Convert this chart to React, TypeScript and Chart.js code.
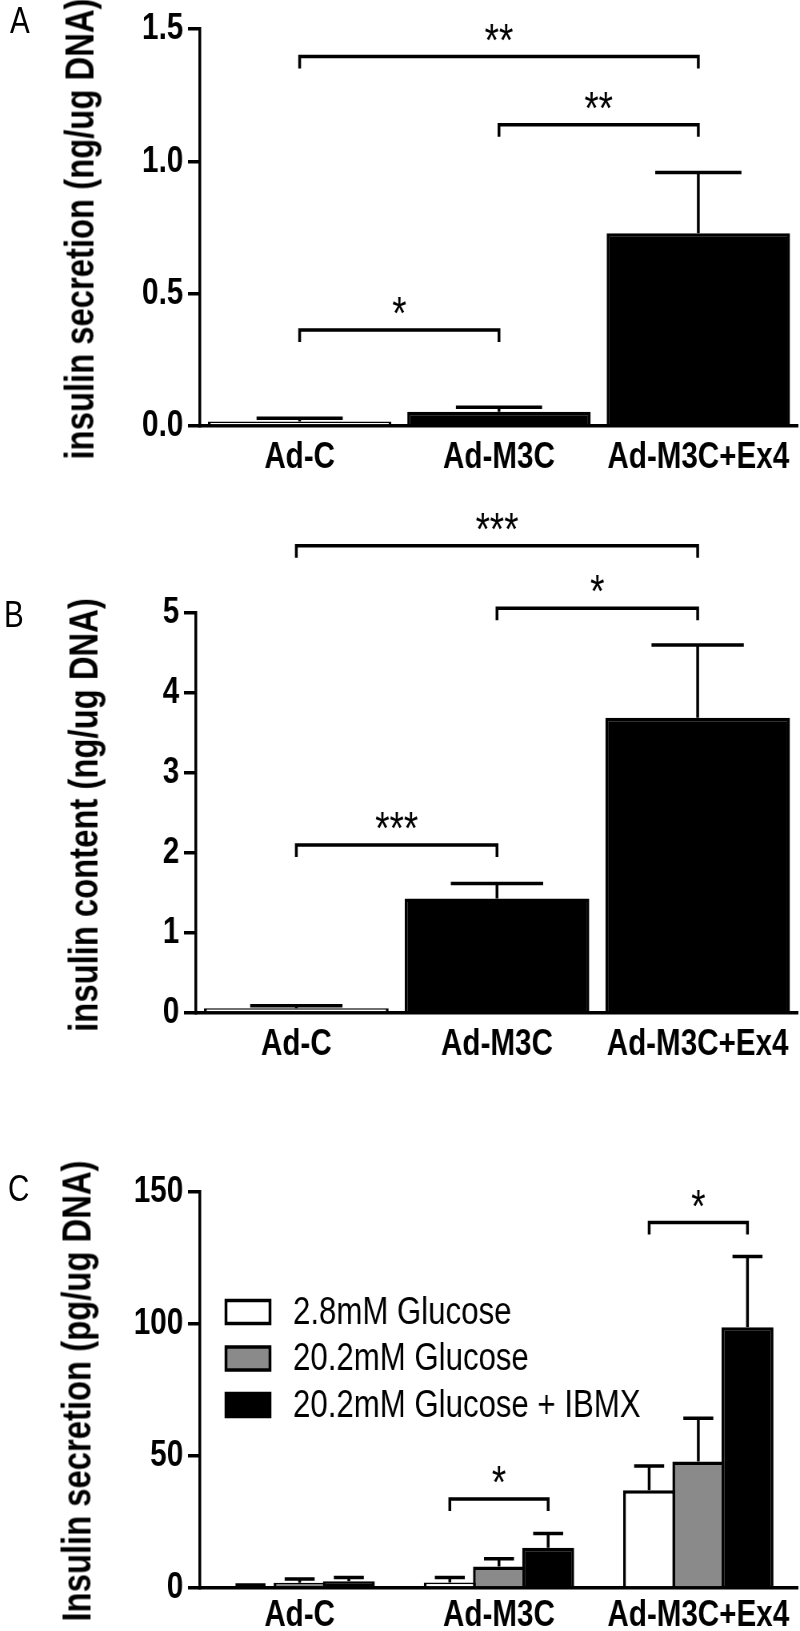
import React, { useEffect, useRef } from 'react';
import { Chart, registerables } from 'chart.js';

Chart.register(...registerables);

const FONT = '"Liberation Sans", Arial, Helvetica, sans-serif';
// The original figure uses a condensed typeface; canvases are drawn at a
// wider logical width and squeezed to 800px with CSS to reproduce it.
const SX = 0.8;
const LOGICAL_W = 800 / SX;
const L = (x: number) => x / SX;

// ---------- shared categories ----------
const categories = ['Ad-C', 'Ad-M3C', 'Ad-M3C+Ex4'];

// ---------- Panel A: insulin secretion (ng/ug DNA) ----------
const secretionA = [0.017, 0.054, 0.728];
const secretionSemA = [0.012, 0.017, 0.23];
const yTicksA = [0, 0.5, 1.0, 1.5];
const yTickLabelsA = ['0.0', '0.5', '1.0', '1.5'];
const bracketsA = [
  { from: [0, 0], to: [2, 0], y: 1.396, label: '**' },
  { from: [1, 0], to: [2, 0], y: 1.138, label: '**' },
  { from: [0, 0], to: [1, 0], y: 0.363, label: '*' },
];

// ---------- Panel B: insulin content (ng/ug DNA) ----------
const contentB = [0.06, 1.43, 3.69];
const contentSemB = [0.03, 0.19, 0.91];
const yTicksB = [0, 1, 2, 3, 4, 5];
const yTickLabelsB = ['0', '1', '2', '3', '4', '5'];
const bracketsB = [
  { from: [0, 0], to: [2, 0], y: 5.84, label: '***' },
  { from: [1, 0], to: [2, 0], y: 5.06, label: '*' },
  { from: [0, 0], to: [1, 0], y: 2.1, label: '***' },
];

// ---------- Panel C: Insulin secretion (pg/ug DNA) ----------
const seriesC = ['2.8mM Glucose', '20.2mM Glucose', '20.2mM Glucose + IBMX'];
const lowGlucoseC = [0.6, 2.1, 37.0];
const lowGlucoseSemC = [0.5, 1.9, 9.2];
const highGlucoseC = [2.0, 8.1, 47.9];
const highGlucoseSemC = [1.4, 3.0, 16.4];
const ibmxC = [2.6, 15.2, 98.8];
const ibmxSemC = [1.4, 5.4, 26.8];
const yTicksC = [0, 50, 100, 150];
const yTickLabelsC = ['0', '50', '100', '150'];
const bracketsC = [
  { from: [2, 0], to: [2, 2], y: 138.4, label: '*' },
  { from: [1, 0], to: [1, 2], y: 33.7, label: '*' },
];

// bar fills for the single-series panels (control bar is open)
const fillsAB = ['#ffffff', '#000000', '#000000'];

type Bracket = { from: number[]; to: number[]; y: number; label: string };

const LW = 3.5;

function overlayPlugin(cfg: {
  errors: number[][];
  brackets: Bracket[];
  cap: (w: number) => number;
  legend?: boolean;
}) {
  return {
    id: 'overlay',
    afterDatasetsDraw(chart: any) {
      const ctx = chart.ctx;
      const y = chart.scales.y;
      ctx.save();
      ctx.strokeStyle = '#000';
      ctx.lineWidth = LW;
      ctx.lineCap = 'butt';
      cfg.errors.forEach((errs, di) => {
        const meta = chart.getDatasetMeta(di);
        const vals = chart.data.datasets[di].data as number[];
        meta.data.forEach((bar: any, i: number) => {
          const top = y.getPixelForValue(vals[i] + errs[i]);
          const base = y.getPixelForValue(vals[i]);
          const cw = cfg.cap(bar.width);
          ctx.beginPath();
          ctx.moveTo(bar.x, base);
          ctx.lineTo(bar.x, top);
          ctx.moveTo(bar.x - cw / 2, top);
          ctx.lineTo(bar.x + cw / 2, top);
          ctx.stroke();
        });
      });
      ctx.restore();
    },
    afterDraw(chart: any) {
      const ctx = chart.ctx;
      const y = chart.scales.y;
      ctx.save();
      ctx.strokeStyle = '#000';
      ctx.fillStyle = '#000';
      ctx.lineWidth = LW;
      ctx.lineJoin = 'miter';
      cfg.brackets.forEach((b) => {
        const yl = y.getPixelForValue(b.y);
        const x1 = chart.getDatasetMeta(b.from[1]).data[b.from[0]].x;
        const x2 = chart.getDatasetMeta(b.to[1]).data[b.to[0]].x;
        ctx.beginPath();
        ctx.moveTo(x1, yl + 12);
        ctx.lineTo(x1, yl);
        ctx.lineTo(x2, yl);
        ctx.lineTo(x2, yl + 12);
        ctx.stroke();
        ctx.font = `46px ${FONT}`;
        ctx.textAlign = 'center';
        ctx.textBaseline = 'alphabetic';
        ctx.fillText(b.label, (x1 + x2) / 2, yl - 1);
      });
      if (cfg.legend) {
        const ca = chart.chartArea;
        chart.data.datasets.forEach((ds: any, i: number) => {
          const cy = ca.top + 120 + i * 46.5;
          ctx.fillStyle = ds.backgroundColor;
          ctx.fillRect(L(226), cy - 11.5, L(44), 23);
          ctx.strokeRect(L(226), cy - 11.5, L(44), 23);
          ctx.fillStyle = '#000';
          ctx.font = `39px ${FONT}`;
          ctx.textAlign = 'left';
          ctx.textBaseline = 'middle';
          ctx.fillText(ds.label, L(293), cy + 1);
        });
      }
      ctx.restore();
    },
  };
}

function axisOptions(o: {
  padTop: number;
  yWidth: number;
  xHeight: number;
  xPad: number;
  yMax: number;
  yTicks: number[];
  yLabels: string[];
}) {
  return {
    responsive: false,
    animation: false as const,
    devicePixelRatio: 1,
    layout: { padding: { top: o.padTop, left: 0, right: 2.5, bottom: 0 } },
    plugins: { legend: { display: false }, tooltip: { enabled: false } },
    scales: {
      x: {
        type: 'category' as const,
        offset: true,
        grid: { display: false, drawTicks: false },
        border: { display: true, width: LW, color: '#000' },
        ticks: {
          color: '#000',
          font: { family: FONT, size: 37, weight: 'bold' as const },
          padding: o.xPad,
          maxRotation: 0,
          autoSkip: false,
        },
        afterFit: (s: any) => {
          s.height = o.xHeight;
        },
      },
      y: {
        type: 'linear' as const,
        min: 0,
        max: o.yMax,
        afterBuildTicks: (s: any) => {
          s.ticks = o.yTicks.map((v) => ({ value: v }));
        },
        ticks: {
          color: '#000',
          font: { family: FONT, size: 37, weight: 'bold' as const },
          padding: 6,
          callback: (v: any) => {
            const i = o.yTicks.indexOf(Number(v));
            return i >= 0 ? o.yLabels[i] : '';
          },
        },
        grid: {
          display: true,
          drawOnChartArea: false,
          drawTicks: true,
          tickLength: 15,
          lineWidth: LW,
          color: '#000',
        },
        border: { display: true, width: LW, color: '#000' },
        title: { display: false },
        afterFit: (s: any) => {
          s.width = o.yWidth;
        },
      },
    },
  };
}

function singleDataset(label: string, data: number[]) {
  return {
    label,
    data,
    backgroundColor: fillsAB,
    borderColor: '#000',
    borderWidth: LW,
    barPercentage: 0.92,
    categoryPercentage: 1.0,
  };
}

function buildA() {
  return {
    type: 'bar' as const,
    data: {
      labels: categories,
      datasets: [singleDataset('insulin secretion', secretionA)],
    },
    options: axisOptions({
      padTop: 29,
      yWidth: L(200),
      xHeight: 74,
      xPad: 10,
      yMax: 1.5,
      yTicks: yTicksA,
      yLabels: yTickLabelsA,
    }),
    plugins: [
      overlayPlugin({ errors: [secretionSemA], brackets: bracketsA, cap: (w) => w * 0.47 }),
    ],
  };
}

function buildB() {
  return {
    type: 'bar' as const,
    data: {
      labels: categories,
      datasets: [singleDataset('insulin content', contentB)],
    },
    options: axisOptions({
      padTop: 123,
      yWidth: L(196),
      xHeight: 47,
      xPad: 10,
      yMax: 5,
      yTicks: yTicksB,
      yLabels: yTickLabelsB,
    }),
    plugins: [
      overlayPlugin({ errors: [contentSemB], brackets: bracketsB, cap: (w) => w * 0.5 }),
    ],
  };
}

function buildC() {
  const common = {
    borderColor: '#000',
    borderWidth: LW,
    barPercentage: 1.057,
    categoryPercentage: 0.74,
  };
  return {
    type: 'bar' as const,
    data: {
      labels: categories,
      datasets: [
        { label: seriesC[0], data: lowGlucoseC, backgroundColor: '#ffffff', ...common },
        { label: seriesC[1], data: highGlucoseC, backgroundColor: '#8a8a8a', ...common },
        { label: seriesC[2], data: ibmxC, backgroundColor: '#000000', ...common },
      ],
    },
    options: axisOptions({
      padTop: 42,
      yWidth: L(200),
      xHeight: 43,
      xPad: 6,
      yMax: 150,
      yTicks: yTicksC,
      yLabels: yTickLabelsC,
    }),
    plugins: [
      overlayPlugin({
        errors: [lowGlucoseSemC, highGlucoseSemC, ibmxSemC],
        brackets: bracketsC,
        cap: () => L(30),
        legend: true,
      }),
    ],
  };
}

function Panel({ top, height, build }: { top: number; height: number; build: () => any }) {
  const ref = useRef<HTMLCanvasElement>(null);
  useEffect(() => {
    const chart = new Chart(ref.current as HTMLCanvasElement, build());
    return () => chart.destroy();
  }, []);
  return (
    <canvas
      ref={ref}
      width={LOGICAL_W}
      height={height}
      style={{ position: 'absolute', left: 0, top, width: 800, height, display: 'block' }}
    />
  );
}

const letterStyle = (left: number, top: number): React.CSSProperties => ({
  position: 'absolute',
  left,
  top,
  fontFamily: FONT,
  fontSize: 37,
  lineHeight: '37px',
  color: '#000',
  transform: `scaleX(${SX})`,
  transformOrigin: 'left top',
});

function AxisTitle({ cx, cy, text }: { cx: number; cy: number; text: string }) {
  return (
    <div
      style={{
        position: 'absolute',
        left: cx,
        top: cy,
        transform: `translate(-50%, -50%) rotate(-90deg) scaleX(${SX})`,
        fontFamily: FONT,
        fontWeight: 'bold',
        fontSize: 41,
        lineHeight: '41px',
        whiteSpace: 'nowrap',
        color: '#000',
      }}
    >
      {text}
    </div>
  );
}

export default function App() {
  return (
    <div
      style={{
        position: 'absolute',
        left: 0,
        top: 0,
        width: 800,
        height: 1631,
        background: '#fff',
        overflow: 'hidden',
      }}
    >
      <Panel top={0} height={500} build={buildA} />
      <Panel top={490} height={570} build={buildB} />
      <Panel top={1150} height={481} build={buildC} />
      <AxisTitle cx={80} cy={229} text="insulin secretion (ng/ug DNA)" />
      <AxisTitle cx={84} cy={815} text="insulin content (ng/ug DNA)" />
      <AxisTitle cx={77} cy={1391} text="Insulin secretion (pg/ug DNA)" />
      <div style={letterStyle(10, 2)}>A</div>
      <div style={letterStyle(4, 596)}>B</div>
      <div style={letterStyle(8, 1170)}>C</div>
    </div>
  );
}
